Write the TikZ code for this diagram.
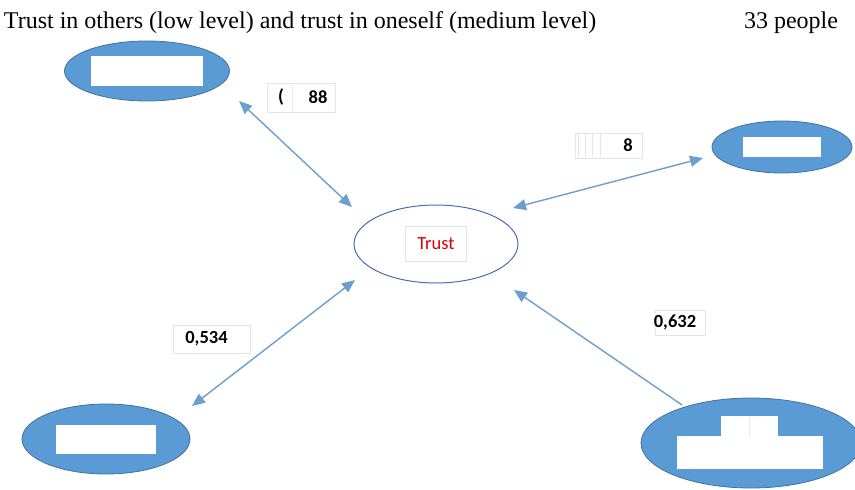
\documentclass[tikz,border=0pt]{standalone}
\usepackage{fontspec}
\setmainfont{Liberation Serif}
\newfontfamily\calfont{Carlito}
\usepackage{xcolor}
\usetikzlibrary{arrows.meta,positioning,calc,shapes.geometric}

\definecolor{blobfill}{HTML}{5B9BD5}
\definecolor{blobline}{HTML}{41719C}
\definecolor{linkblue}{HTML}{6C9FD0}
\definecolor{trustline}{HTML}{4A6BB0}

\begin{document}
\begin{tikzpicture}[
    x=1pt,y=-1pt,
    every node/.style={inner sep=0pt,outer sep=0pt},
    blob/.style={ellipse,draw=blobline,fill=blobfill,line width=0.8pt},
    hole/.style={draw=none,fill=white},
    tagfont/.style={font=\calfont\bfseries\fontsize{18.5}{20}\selectfont},
    tag/.style={draw=black!10,fill=white,tagfont},
    link/.style={linkblue,line width=1.4pt,{Triangle[length=13pt,width=11pt]}-{Triangle[length=13pt,width=11pt]}}
]
\useasboundingbox (0,0) rectangle (855,490);

% title line
\node[anchor=base west,font=\fontsize{24}{28}\selectfont] (title) at (4,28)
  {Trust in others (low level) and trust in oneself (medium level)};
\node[anchor=base east,font=\fontsize{24}{28}\selectfont] (count) at (838,28) {33 people};

% centre
\node[ellipse,draw=trustline,line width=1pt,minimum width=164,minimum height=78] (trust) at (436,244) {};
\node[draw=black!10,minimum width=61,minimum height=35,text=red!85!black,
  font=\calfont\fontsize{18.5}{20}\selectfont] (trusttxt) at (trust) {Trust};

% outer ellipses
\node[blob,minimum width=165,minimum height=60] (others) at (147,71) {};
\node[hole,minimum width=112,minimum height=30] at (others) {};

\node[blob,minimum width=140,minimum height=52] (self) at (782,147) {};
\node[hole,minimum width=78,minimum height=20] at (self) {};

\node[blob,minimum width=168,minimum height=70] (left) at (106,439) {};
\node[hole,minimum width=100,minimum height=29] at (left) {};

\node[blob,minimum width=220,minimum height=90] (right) at (751,443) {};
\node[hole,minimum width=146,minimum height=33] (rlow) at (750,452.5) {};
\node[hole,minimum width=57,minimum height=20] (rtop) at (749.5,426) {};
\draw[black!8] (rtop.north) -- (rtop.south);

% value tags
\node[tag,minimum width=68,minimum height=29] (t88) at (301,97.5) {};
\draw[black!8] ($(t88.north west)!0.37!(t88.north east)$) -- ($(t88.south west)!0.37!(t88.south east)$);
\node[tagfont] at (281,97.5) {(};
\node[tagfont] at (318,97.5) {88};

\node[tag,minimum width=67,minimum height=25] (t8) at (608.5,145.5) {};
\foreach \xx in {578,585,592,600} {
  \draw[black!10] (\xx,134) -- (\xx,157);
}
\node[tagfont] at (628,145.5) {8};

\node[tag,minimum width=77,minimum height=28] (t534) at (211.5,339) {};
\node[tagfont] at (206.5,339) {0,534};
\node[tag,minimum width=50,minimum height=25] (t632) at (680,322.5) {};
\node[tagfont] at (675,322.5) {0,632};

% links
\coordinate (a1) at (239,101);
\coordinate (b1) at (352,207);
\coordinate (a2) at (703,158);
\coordinate (b2) at (513,208);
\coordinate (a3) at (192,406);
\coordinate (b3) at (355,280);
\coordinate (a4) at (682,405);
\coordinate (b4) at (514,290);
\draw[link] (a1) -- (b1);
\draw[link] (a2) -- (b2);
\draw[link] (a3) -- (b3);
\draw[link,-{Triangle[length=13pt,width=11pt]}] (a4) -- (b4);
\end{tikzpicture}
\end{document}
